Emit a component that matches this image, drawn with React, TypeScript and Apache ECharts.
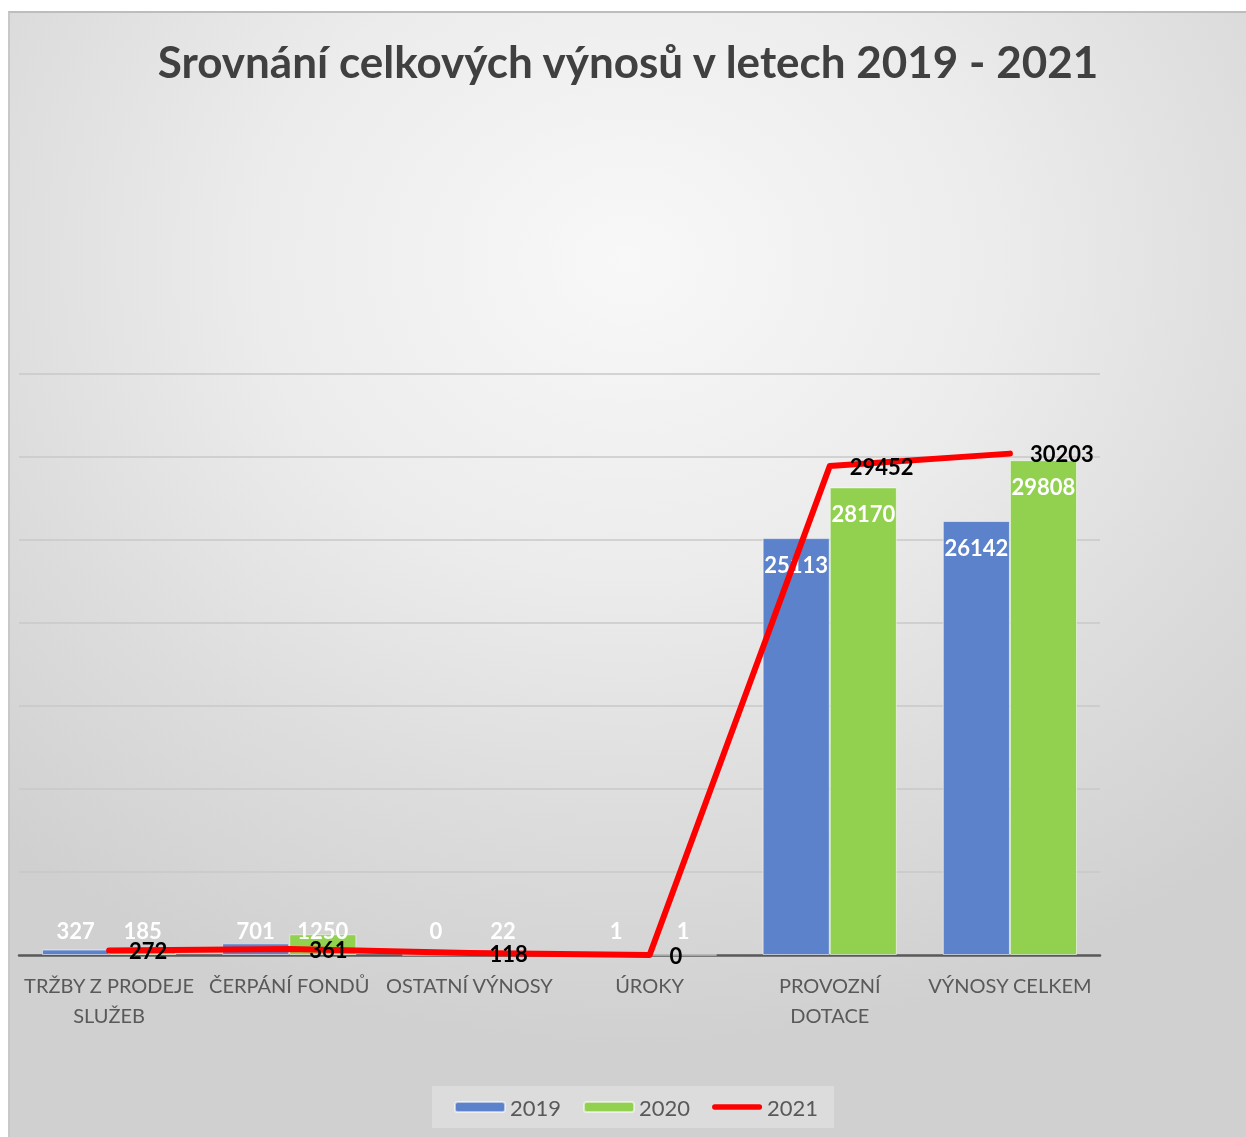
import React, { useEffect, useRef } from "react";
import * as echarts from "echarts";

const categories = [
  "TRŽBY Z PRODEJE\nSLUŽEB",
  "ČERPÁNÍ FONDŮ",
  "OSTATNÍ VÝNOSY",
  "ÚROKY",
  "PROVOZNÍ\nDOTACE",
  "VÝNOSY CELKEM",
];
const values2019 = [327, 701, 0, 1, 25113, 26142];
const values2020 = [185, 1250, 22, 1, 28170, 29808];
const values2021 = [272, 361, 118, 0, 29452, 30203];
const seriesNames = ["2019", "2020", "2021"];
const titleText = "Srovnání celkových výnosů v letech 2019 - 2021";

const FONT = "Lato, 'Open Sans', sans-serif";
const LINE_ICON = "path://M3,0L53,0A3,3,0,0,1,53,6L3,6A3,3,0,0,1,3,0Z";

function barData(vals: number[]) {
  return vals.map((v) => ({
    value: v,
    label:
      v < 3000
        ? { position: "insideBottom", distance: 14 }
        : { position: "insideTop", distance: 15 },
  }));
}

export default function App() {
  const ref = useRef<HTMLDivElement>(null);
  useEffect(() => {
    if (!ref.current) return;
    const chart = echarts.init(ref.current, undefined, { renderer: "svg" });
    const barLabel = {
      show: true,
      color: "#ffffff",
      fontFamily: FONT,
      fontWeight: "bold",
      fontSize: 22,
    };
    chart.setOption({
      animation: false,
      backgroundColor: "transparent",
      title: {
        text: titleText,
        left: "center",
        top: 21,
        textStyle: {
          color: "#404040",
          fontFamily: FONT,
          fontWeight: "bold",
          fontSize: 44,
        },
      },
      grid: { left: 9, right: 146, top: 361, bottom: 182, containLabel: false },
      legend: {
        bottom: 9,
        left: 422,
        data: [
          seriesNames[0],
          seriesNames[1],
          { name: seriesNames[2], icon: LINE_ICON, itemStyle: { color: "#FF0000" } },
        ],
        itemWidth: 50,
        itemHeight: 10,
        itemGap: 22,
        padding: [10, 16, 10, 22],
        backgroundColor: "rgba(255,255,255,0.25)",
        textStyle: { color: "#595959", fontFamily: FONT, fontSize: 22 },
      },
      xAxis: {
        type: "category",
        data: categories,
        axisLine: { lineStyle: { color: "#595959", width: 2.5 } },
        axisTick: { show: false },
        axisLabel: {
          color: "#595959",
          fontFamily: FONT,
          fontSize: 20,
          lineHeight: 30,
          margin: 15,
          interval: 0,
        },
      },
      yAxis: {
        type: "value",
        min: 0,
        max: 35000,
        interval: 5000,
        axisLabel: { show: false },
        axisLine: { show: false },
        axisTick: { show: false },
        splitLine: { lineStyle: { color: "#c9c9c9", width: 1.5 } },
      },
      series: [
        {
          name: seriesNames[0],
          type: "bar",
          data: barData(values2019),
          barGap: "0%",
          barCategoryGap: "25.5%",
          itemStyle: {
            color: "#5B82CA",
            borderColor: "rgba(255,255,255,0.55)",
            borderWidth: 1,
          },
          label: barLabel,
        },
        {
          name: seriesNames[1],
          type: "bar",
          data: barData(values2020),
          barGap: "0%",
          barCategoryGap: "25.5%",
          itemStyle: {
            color: "#92D050",
            borderColor: "rgba(255,255,255,0.55)",
            borderWidth: 1,
          },
          label: barLabel,
        },
        {
          name: seriesNames[2],
          type: "line",
          data: values2021,
          symbol: "circle",
          symbolSize: 0,
          showSymbol: true,
          z: 5,
          lineStyle: { color: "#FF0000", width: 6, cap: "round", join: "round" },
          itemStyle: { color: "#FF0000" },
          label: {
            show: true,
            position: "right",
            distance: 20,
            color: "#000000",
            fontFamily: FONT,
            fontWeight: "bold",
            fontSize: 22,
          },
        },
      ],
    });
    return () => chart.dispose();
  }, []);
  return (
    <div
      style={{
        position: "fixed",
        left: 8,
        top: 11,
        width: 1238,
        height: 1126,
        boxSizing: "border-box",
        borderTop: "2px solid #bdbdbd",
        borderLeft: "2px solid #c8c8c8",
        background:
          "radial-gradient(ellipse 75% 70% at 50% 22%, #f8f8f8 0%, #ececec 40%, #dddddd 70%, #d0d0d0 100%)",
      }}
    >
      <div ref={ref} style={{ width: 1236, height: 1124 }} />
    </div>
  );
}
